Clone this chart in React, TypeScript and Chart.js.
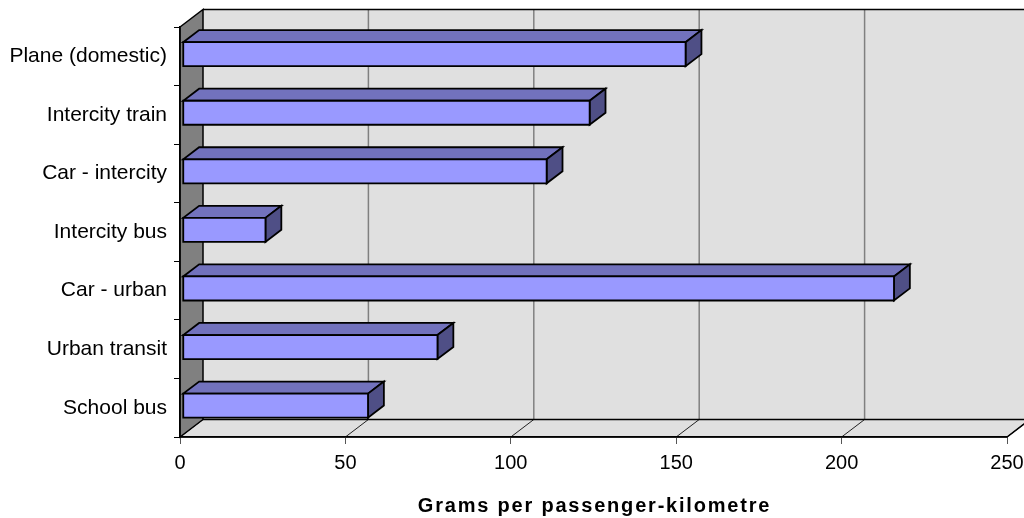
import React, { useEffect, useRef } from "react";
import { Chart, registerables } from "chart.js";

Chart.register(...registerables);

const categories = [
  "Plane (domestic)",
  "Intercity train",
  "Car - intercity",
  "Intercity bus",
  "Car - urban",
  "Urban transit",
  "School bus",
];
const gramsPerPassengerKm = [152, 123, 110, 25, 215, 77, 56];
const axisMin = 0;
const axisMax = 250;
const axisStep = 50;
const axisTitle = "Grams per passenger-kilometre";

const FONT = "'Liberation Sans', Arial, sans-serif";

// 3D depth of the plot box (pixels from the front plane to the back wall)
const DEPTH_X = 23;
const DEPTH_Y = -17.5;
// where each bar sits inside that depth (fraction of the depth)
const BAR_FRONT = 0.12;
const BAR_BACK = 0.81;

const WALL = "#e0e0e0";
const SIDE_WALL = "#808080";
const GRID = "#808080";
const FACE_FRONT = "#9999ff";
const FACE_TOP = "#7272bd";
const FACE_SIDE = "#4f4f86";

function poly(ctx: CanvasRenderingContext2D, pts: number[][]) {
  ctx.beginPath();
  ctx.moveTo(pts[0][0], pts[0][1]);
  for (let i = 1; i < pts.length; i++) ctx.lineTo(pts[i][0], pts[i][1]);
  ctx.closePath();
}

const box3d = {
  id: "box3d",
  beforeDraw(chart: any) {
    const { ctx, chartArea: a, scales } = chart;
    const x = scales.x;
    const L = a.left, R = a.right, T = a.top, B = a.bottom;
    ctx.save();
    ctx.fillStyle = "#ffffff";
    ctx.fillRect(0, 0, chart.width, chart.height);

    // back wall and floor
    ctx.fillStyle = WALL;
    poly(ctx, [[L + DEPTH_X, T + DEPTH_Y], [R + DEPTH_X, T + DEPTH_Y], [R + DEPTH_X, B + DEPTH_Y], [L + DEPTH_X, B + DEPTH_Y]]);
    ctx.fill();
    poly(ctx, [[L, B], [R, B], [R + DEPTH_X, B + DEPTH_Y], [L + DEPTH_X, B + DEPTH_Y]]);
    ctx.fill();

    // gridlines on the back wall, continued across the floor
    for (let v = axisMin; v <= axisMax; v += axisStep) {
      const px = x.getPixelForValue(v);
      ctx.strokeStyle = GRID;
      ctx.lineWidth = 1.5;
      if (v !== axisMin) {
        ctx.beginPath();
        ctx.moveTo(px + DEPTH_X, T + DEPTH_Y);
        ctx.lineTo(px + DEPTH_X, B + DEPTH_Y);
        ctx.stroke();
      }
      ctx.strokeStyle = "#222";
      ctx.lineWidth = 1;
      ctx.beginPath();
      ctx.moveTo(px + DEPTH_X, B + DEPTH_Y);
      ctx.lineTo(px, B);
      ctx.stroke();
    }

    // outline of the box
    ctx.strokeStyle = "#000";
    ctx.lineWidth = 1.5;
    ctx.beginPath();
    ctx.moveTo(L + DEPTH_X, T + DEPTH_Y);
    ctx.lineTo(R + DEPTH_X + 20, T + DEPTH_Y);
    ctx.moveTo(L + DEPTH_X, B + DEPTH_Y);
    ctx.lineTo(R + DEPTH_X + 20, B + DEPTH_Y);
    ctx.moveTo(L, B);
    ctx.lineTo(R, B);
    ctx.lineTo(R + DEPTH_X, B + DEPTH_Y);
    ctx.stroke();

    // left side wall
    ctx.fillStyle = SIDE_WALL;
    poly(ctx, [[L, T], [L + DEPTH_X, T + DEPTH_Y], [L + DEPTH_X, B + DEPTH_Y], [L, B]]);
    ctx.fill();
    ctx.stroke();
    ctx.restore();
  },
  afterDatasetsDraw(chart: any) {
    const { ctx } = chart;
    const meta = chart.getDatasetMeta(0);
    const fx = BAR_FRONT * DEPTH_X, fy = BAR_FRONT * DEPTH_Y;
    const bx = (BAR_BACK - BAR_FRONT) * DEPTH_X, by = (BAR_BACK - BAR_FRONT) * DEPTH_Y;
    ctx.save();
    ctx.strokeStyle = "#000";
    ctx.lineWidth = 1.8;
    ctx.lineJoin = "miter";
    meta.data.forEach((bar: any) => {
      const { x, y, base, height } = bar.getProps(["x", "y", "base", "height"], true);
      const x0 = base + fx, x1 = x + fx;
      const y0 = y - height / 2 + fy, y1 = y + height / 2 + fy;
      ctx.fillStyle = FACE_TOP;
      poly(ctx, [[x0, y0], [x1, y0], [x1 + bx, y0 + by], [x0 + bx, y0 + by]]);
      ctx.fill();
      ctx.stroke();
      ctx.fillStyle = FACE_SIDE;
      poly(ctx, [[x1, y0], [x1 + bx, y0 + by], [x1 + bx, y1 + by], [x1, y1]]);
      ctx.fill();
      ctx.stroke();
      ctx.fillStyle = FACE_FRONT;
      poly(ctx, [[x0, y0], [x1, y0], [x1, y1], [x0, y1]]);
      ctx.fill();
      ctx.stroke();
    });
    ctx.restore();
  },
  afterDraw(chart: any) {
    const { ctx, chartArea: a } = chart;
    ctx.save();
    ctx.font = `bold 20px ${FONT}`;
    (ctx as any).letterSpacing = "1.8px";
    ctx.fillStyle = "#000";
    ctx.textAlign = "center";
    ctx.textBaseline = "middle";
    ctx.fillText(axisTitle, (a.left + a.right) / 2 + 1, 506);
    ctx.restore();
  },
};

export default function App() {
  const ref = useRef<HTMLCanvasElement>(null);

  useEffect(() => {
    if (!ref.current) return;
    const chart = new Chart(ref.current, {
      type: "bar",
      data: {
        labels: categories,
        datasets: [
          {
            data: gramsPerPassengerKm,
            backgroundColor: "rgba(0,0,0,0)",
            borderWidth: 0,
            barPercentage: 0.41,
            categoryPercentage: 1,
          },
        ],
      },
      options: {
        indexAxis: "y",
        animation: false,
        responsive: false,
        events: [],
        layout: { padding: { top: 27, right: 17, left: 0, bottom: 0 } },
        plugins: { legend: { display: false }, tooltip: { enabled: false } },
        scales: {
          x: {
            min: axisMin,
            max: axisMax,
            ticks: { stepSize: axisStep, color: "#000", padding: 7, font: { family: FONT, size: 20 } },
            grid: { drawOnChartArea: false, drawTicks: true, tickLength: 7, color: "#555" },
            border: { display: true, color: "#000", width: 1.5 },
            afterFit: (s: any) => {
              s.height = 81;
              s.paddingLeft = 0;
              s.paddingRight = 0;
            },
          },
          y: {
            ticks: { color: "#000", padding: 7, font: { family: FONT, size: 21 } },
            grid: { drawOnChartArea: false, drawTicks: true, tickLength: 6, color: "#000", offset: true },
            border: { display: true, color: "#000", width: 1.5 },
            afterFit: (s: any) => {
              s.width = 180;
              s.paddingTop = 0;
              s.paddingBottom = 0;
            },
          },
        },
      },
      plugins: [box3d],
    });
    return () => chart.destroy();
  }, []);

  return (
    <div style={{ position: "fixed", left: 0, top: 0, width: 1024, height: 518, background: "#fff" }}>
      <canvas ref={ref} width={1024} height={518} style={{ display: "block" }} />
    </div>
  );
}
